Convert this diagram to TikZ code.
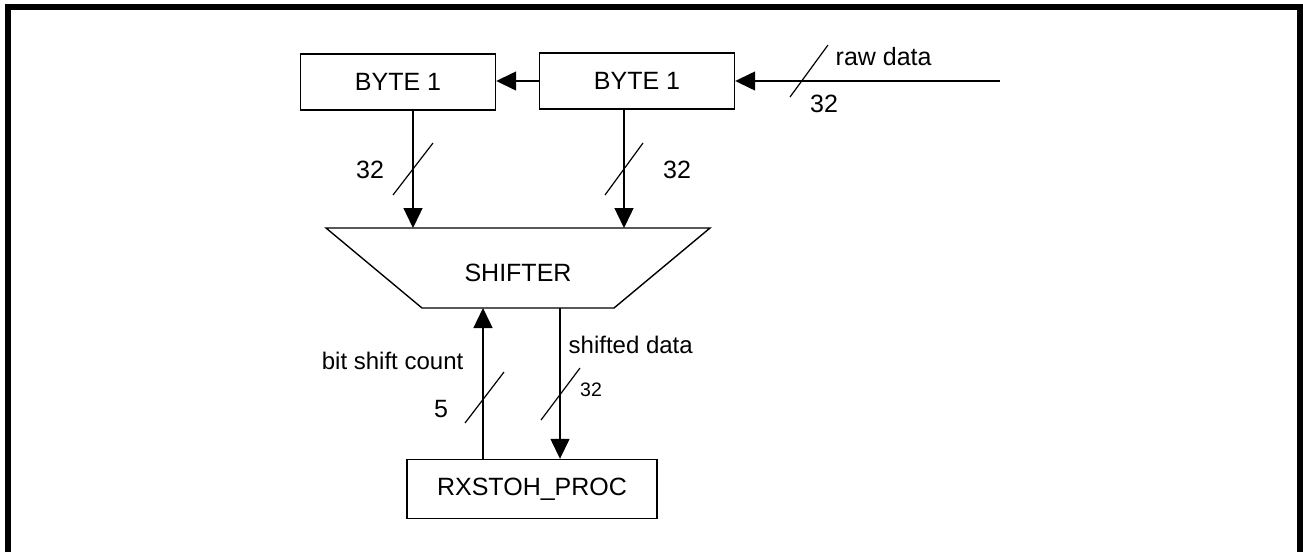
\documentclass[tikz,border=0pt]{standalone}
\usepackage{fontspec}
\setmainfont{Liberation Sans}
\usetikzlibrary{arrows.meta}

\begin{document}
\begin{tikzpicture}[x = 1pt, y = -1pt,
                > = {Triangle[length=20pt, width=19pt]}, % filled arrow head
                line width = 1.4pt, % line style
                font = \fontsize{25}{30}\selectfont
            ]

            \tikzstyle{block}=[draw = black, rectangle, inner sep = 0pt,
            minimum width = 195pt, minimum height = 56pt]
            \tikzstyle{lbl}=[inner sep = 0pt]
            \tikzstyle{bus}=[line width = 1.2pt]

            \useasboundingbox (0,0) rectangle (1303,552);
            % frame
            \draw[line width = 6pt] (8,552) -- (8,7) -- (1300,7) -- (1300,552);

            \node (byteA) [block] at (398,82) {BYTE 1};
            \node (byteB) [block] at (637,81) {BYTE 1};
            \node (proc) [block, minimum width = 250pt, minimum height = 59pt]
            at (532,489) {RXSTOH\_PROC};
            \coordinate (rawin) at (1000,81);

            % shifter outline
            \coordinate (shTL) at (326,228); \coordinate (shTR) at (710,228);
            \coordinate (shBR) at (614,308); \coordinate (shBL) at (422,308);
            \draw (shTL) -- (shTR) -- (shBR) -- (shBL) -- cycle;
            \node (shifter) [lbl] at (518,273) {SHIFTER};

            \path[->] (byteB.west) edge (byteB.west -| byteA.east);
            \path[->] (rawin) edge (byteB.east);
            \path[->] ([xshift=15pt]byteA.south) edge
            ([xshift=15pt]byteA.south |- shTL);
            \path[->] ([xshift=-13pt]byteB.south) edge
            ([xshift=-13pt]byteB.south |- shTL);
            \path[->] ([xshift=-49pt]proc.north) edge
            ([xshift=-49pt]proc.north |- shBL);
            \path[->] ([xshift=28pt]proc.north |- shBL) edge
            ([xshift=28pt]proc.north);

            % bus width marks
            \draw[bus] (790,97) -- (828,45);
            \draw[bus] (393,195) -- (433,143);
            \draw[bus] (605,195) -- (643,143);
            \draw[bus] (465,423) -- (504,372);
            \draw[bus] (541,420) -- (580,368);

            \node (rawlbl) [lbl, anchor = west] at (835,57) {raw data};
            \node (rawn) [lbl] at (824,104) {32};
            \node (nA) [lbl] at (370,170) {32};
            \node (nB) [lbl] at (677,170) {32};
            \node (cntlbl) [lbl, anchor = east, font = \fontsize{24}{29}\selectfont]
            at (464,361) {bit shift count};
            \node (cntn) [lbl] at (441,409) {5};
            \node (outlbl) [lbl, anchor = west, font = \fontsize{24}{29}\selectfont]
            at (568,345) {shifted data};
            \node (outn) [lbl, font = \fontsize{19.5}{23}\selectfont] at (591,390) {32};
        \end{tikzpicture}
\end{document}
